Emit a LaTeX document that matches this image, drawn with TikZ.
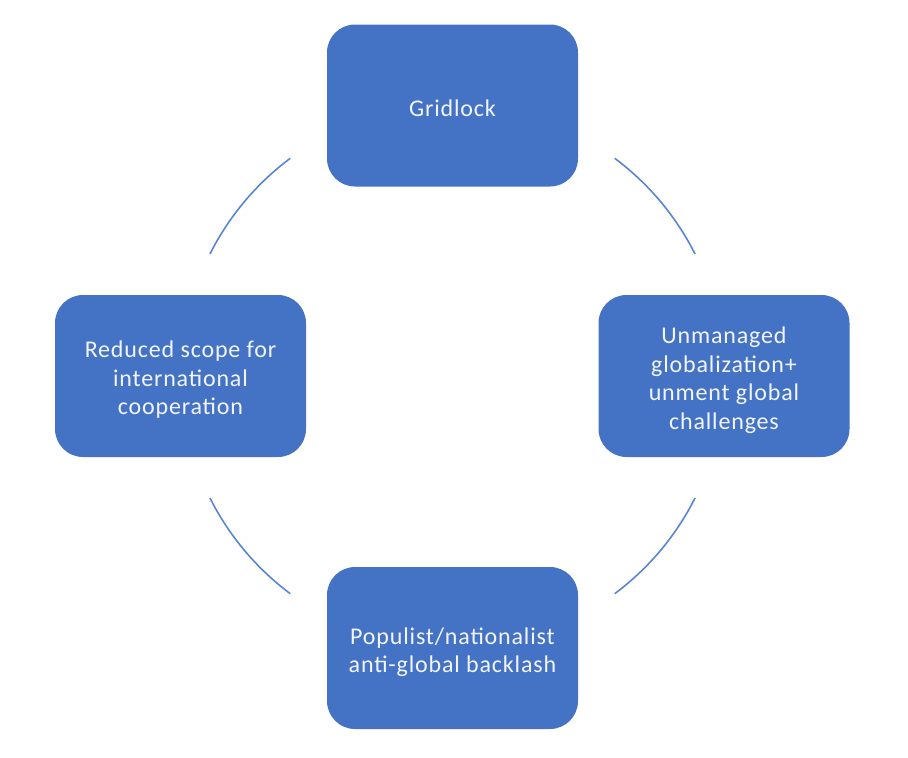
\documentclass[tikz,border=0pt]{standalone}
\usepackage{fontspec}
\setmainfont{Carlito}
\newfontfamily\boxfont[LetterSpace=3.5]{Carlito}
\definecolor{boxblue}{HTML}{4472C4}
\definecolor{arcblue}{HTML}{5A86D0}
\definecolor{boxtext}{HTML}{F2F5FB}
\begin{document}
\begin{tikzpicture}[x=1pt,y=-1pt,
  cyclebox/.style={draw=none, fill=boxblue, rounded corners=28pt, minimum width=251pt, minimum height=162pt, inner sep=0pt},
  boxlabel/.style={text=boxtext, align=center, font=\boxfont\fontsize{24}{28.5}\selectfont, inner sep=0pt},
  cyclearc/.style={draw=arcblue, line width=1.6pt}]
\useasboundingbox (0,0) rectangle (908,758);
\node[cyclebox] (top) at (452.5,105.5) {};
\node[cyclebox] (right) at (724,376) {};
\node[cyclebox] (bottom) at (452.5,648) {};
\node[cyclebox] (left) at (180.5,376) {};
\node[boxlabel] (topt) at ([yshift=-3pt]top.center) {Gridlock};
\node[boxlabel] (rightt) at ([yshift=-4pt]right.center) {Unmanaged\\globalization+\\unment global\\challenges};
\node[boxlabel] (bottomt) at ([yshift=-4pt]bottom.center) {Populist/nationalist\\anti-global backlash};
\node[boxlabel] (leftt) at ([yshift=-4pt]left.center) {Reduced scope for\\international\\cooperation};
\coordinate (c) at (452.5,376);
\draw[cyclearc] ([shift={(53.3:271.5pt)}]c) arc[start angle=53.3, end angle=26.7, radius=271.5pt];
\draw[cyclearc] ([shift={(-26.7:271.5pt)}]c) arc[start angle=-26.7, end angle=-53.3, radius=271.5pt];
\draw[cyclearc] ([shift={(-126.7:271.5pt)}]c) arc[start angle=-126.7, end angle=-153.3, radius=271.5pt];
\draw[cyclearc] ([shift={(153.3:271.5pt)}]c) arc[start angle=153.3, end angle=126.7, radius=271.5pt];
\end{tikzpicture}
\end{document}
